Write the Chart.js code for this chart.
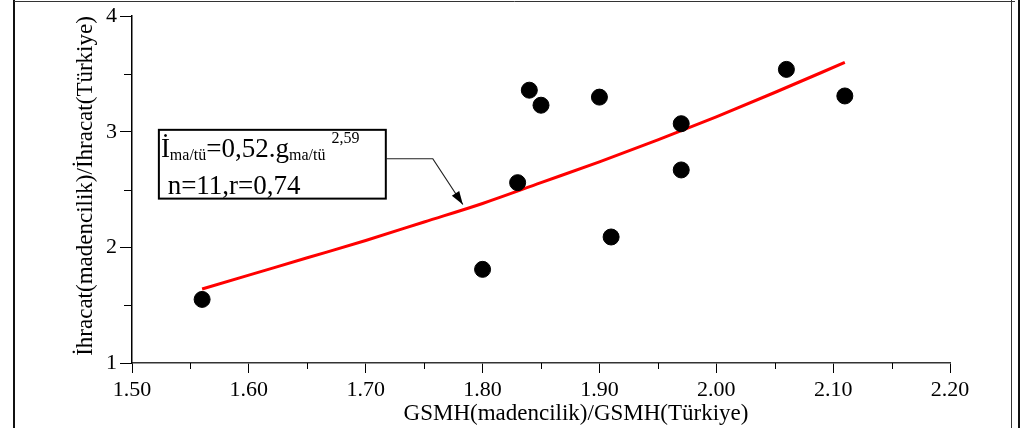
<!DOCTYPE html>
<html>
<head>
<meta charset="utf-8">
<script src="https://cdn.jsdelivr.net/npm/chart.js@4.4.1/dist/chart.umd.min.js"></script>
<style>
  html, body { margin: 0; padding: 0; background: #fff; }
  #wrap { width: 1030px; height: 428px; position: relative; }
</style>
</head>
<body>
<div id="wrap"><canvas id="my-chart"></canvas></div>
<script>
// observed points
const gsmhRatio = [1.56, 1.80, 1.83, 1.84, 1.85, 1.90, 1.91, 1.97, 1.97, 2.06, 2.11];
const ihracatRatio = [1.55, 1.81, 2.56, 3.36, 3.23, 3.30, 2.09, 3.07, 2.67, 3.54, 3.31];

// fitted curve
const fitX = [1.56, 1.60, 1.65, 1.70, 1.75, 1.80, 1.85, 1.90, 1.95, 2.00, 2.05, 2.11];
const fitY = [1.64, 1.76, 1.91, 2.06, 2.22, 2.38, 2.56, 2.74, 2.93, 3.13, 3.34, 3.60];

const xTicks = [1.5, 1.6, 1.7, 1.8, 1.9, 2.0, 2.1, 2.2];
const yTicks = [1, 2, 3, 4];

const xTitle = 'GSMH(madencilik)/GSMH(Türkiye)';
const yTitle = 'İhracat(madencilik)/İhracat(Türkiye)';
const fitLabel = { a: '0,52', b: '2,59', n: 11, r: '0,74' };

const serif = '"Liberation Serif", "Times New Roman", serif';

const framePlugin = {
  id: 'frame',
  beforeDraw: (chart) => {
    const c = chart.ctx;
    c.save();
    c.fillStyle = '#fff';
    c.fillRect(0, 0, chart.width, chart.height);
    c.strokeStyle = '#111';
    c.lineWidth = 2;
    c.beginPath();
    c.moveTo(14, 0); c.lineTo(14, chart.height);
    c.moveTo(1019, 0); c.lineTo(1019, chart.height);
    c.stroke();
    c.lineWidth = 1;
    c.strokeStyle = '#333';
    c.beginPath();
    c.moveTo(14, 1.5); c.lineTo(1015, 1.5);
    c.moveTo(1011.5, 0); c.lineTo(1011.5, chart.height);
    c.stroke();
    c.restore();
  },
};

const extrasPlugin = {
  id: 'extras',
  afterDraw: (chart) => {
    const c = chart.ctx;
    const xs = chart.scales.x;
    const ys = chart.scales.y;
    const area = chart.chartArea;
    c.save();

    // minor ticks
    c.strokeStyle = '#000';
    c.lineWidth = 1;
    c.beginPath();
    for (let v = 1.55; v < 2.2; v += 0.1) {
      const px = Math.round(xs.getPixelForValue(v)) + 0.5;
      c.moveTo(px, area.bottom); c.lineTo(px, area.bottom + 6);
    }
    for (let v = 1.5; v < 4; v += 1) {
      const py = Math.round(ys.getPixelForValue(v)) + 0.5;
      c.moveTo(area.left, py); c.lineTo(area.left - 8, py);
    }
    c.stroke();

    // axis titles
    c.fillStyle = '#000';
    c.font = '23px ' + serif;
    c.textAlign = 'center';
    c.textBaseline = 'alphabetic';
    c.fillText(xTitle, 576, 420);
    c.save();
    c.translate(92, 186);
    c.rotate(-Math.PI / 2);
    c.fillText(yTitle, 0, 0);
    c.restore();

    // equation box
    const bx1 = xs.getPixelForValue(1.523), bx2 = xs.getPixelForValue(1.7172);
    const by1 = ys.getPixelForValue(3.017), by2 = ys.getPixelForValue(2.422);
    c.fillStyle = '#fff';
    c.fillRect(bx1, by1, bx2 - bx1, by2 - by1);
    c.strokeStyle = '#000';
    c.lineWidth = 2;
    c.strokeRect(bx1, by1, bx2 - bx1, by2 - by1);

    c.textAlign = 'left';
    c.fillStyle = '#000';
    let tx = bx1 + 2;
    const base1 = by1 + 27;
    const big = '27px ' + serif;
    const small = '16px ' + serif;
    const piece = (txt, font, dy) => {
      c.font = font;
      c.fillText(txt, tx, base1 + dy);
      tx += c.measureText(txt).width;
    };
    piece('İ', big, 0);
    piece('ma/tü', small, 3);
    piece('=' + fitLabel.a + '.g', big, 0);
    piece('ma/tü', small, 3);
    tx += 6;
    piece(fitLabel.b, small, -14);
    c.font = big;
    c.fillText(' n=' + fitLabel.n + ',r=' + fitLabel.r, bx1 + 2, base1 + 37);

    // leader with arrow
    const ex = xs.getPixelForValue(1.7574), ey = ys.getPixelForValue(2.767);
    const ax = xs.getPixelForValue(1.7831), ay = ys.getPixelForValue(2.371);
    c.strokeStyle = '#222';
    c.lineWidth = 1.2;
    c.beginPath();
    c.moveTo(bx2, ey); c.lineTo(ex, ey); c.lineTo(ax, ay);
    c.stroke();
    const ang = Math.atan2(ay - ey, ax - ex);
    c.fillStyle = '#000';
    c.beginPath();
    c.moveTo(ax, ay);
    c.lineTo(ax - 14 * Math.cos(ang - 0.32), ay - 14 * Math.sin(ang - 0.32));
    c.lineTo(ax - 14 * Math.cos(ang + 0.32), ay - 14 * Math.sin(ang + 0.32));
    c.closePath();
    c.fill();

    c.restore();
  },
};

const ctx = document.getElementById('my-chart').getContext('2d');
const myChart = new Chart(ctx, {
  type: 'scatter',
  data: {
    datasets: [
      {
        label: 'fit',
        data: fitX.map((x, i) => ({ x, y: fitY[i] })),
        showLine: true,
        borderColor: '#ff0000',
        borderWidth: 3,
        pointRadius: 0,
        cubicInterpolationMode: 'monotone',
        order: 2,
      },
      {
        label: 'data',
        data: gsmhRatio.map((x, i) => ({ x, y: ihracatRatio[i] })),
        backgroundColor: '#000',
        borderColor: '#000',
        pointRadius: 8,
        order: 1,
      },
    ],
  },
  options: {
    responsive: true,
    maintainAspectRatio: false,
    animation: false,
    layout: { padding: { left: 0, right: 80, top: 15, bottom: 0 } },
    plugins: {
      legend: { display: false },
      tooltip: { enabled: false },
    },
    scales: {
      x: {
        type: 'linear',
        min: xTicks[0],
        max: xTicks[xTicks.length - 1],
        afterBuildTicks: (scale) => {
          scale.ticks = xTicks.map((v) => ({ value: v }));
        },
        afterFit: (scale) => { scale.height = 65; },
        grid: { drawOnChartArea: false, drawTicks: true, tickLength: 10, color: '#000', tickColor: '#000' },
        border: { display: true, color: '#333', width: 1.5 },
        ticks: {
          color: '#000',
          padding: 4,
          maxRotation: 0,
          font: { family: serif, size: 22 },
          callback: (v) => Number(v).toFixed(2),
        },
      },
      y: {
        type: 'linear',
        min: yTicks[0],
        max: yTicks[yTicks.length - 1],
        afterBuildTicks: (scale) => {
          scale.ticks = yTicks.map((v) => ({ value: v }));
        },
        afterFit: (scale) => { scale.width = 132; },
        grid: { drawOnChartArea: false, drawTicks: true, tickLength: 12, color: '#000', tickColor: '#000' },
        border: { display: true, color: '#000', width: 1.5 },
        ticks: {
          color: '#000',
          padding: 3,
          font: { family: serif, size: 22 },
          callback: (v) => String(v),
        },
      },
    },
  },
  plugins: [framePlugin, extrasPlugin],
});
</script>
</body>
</html>
